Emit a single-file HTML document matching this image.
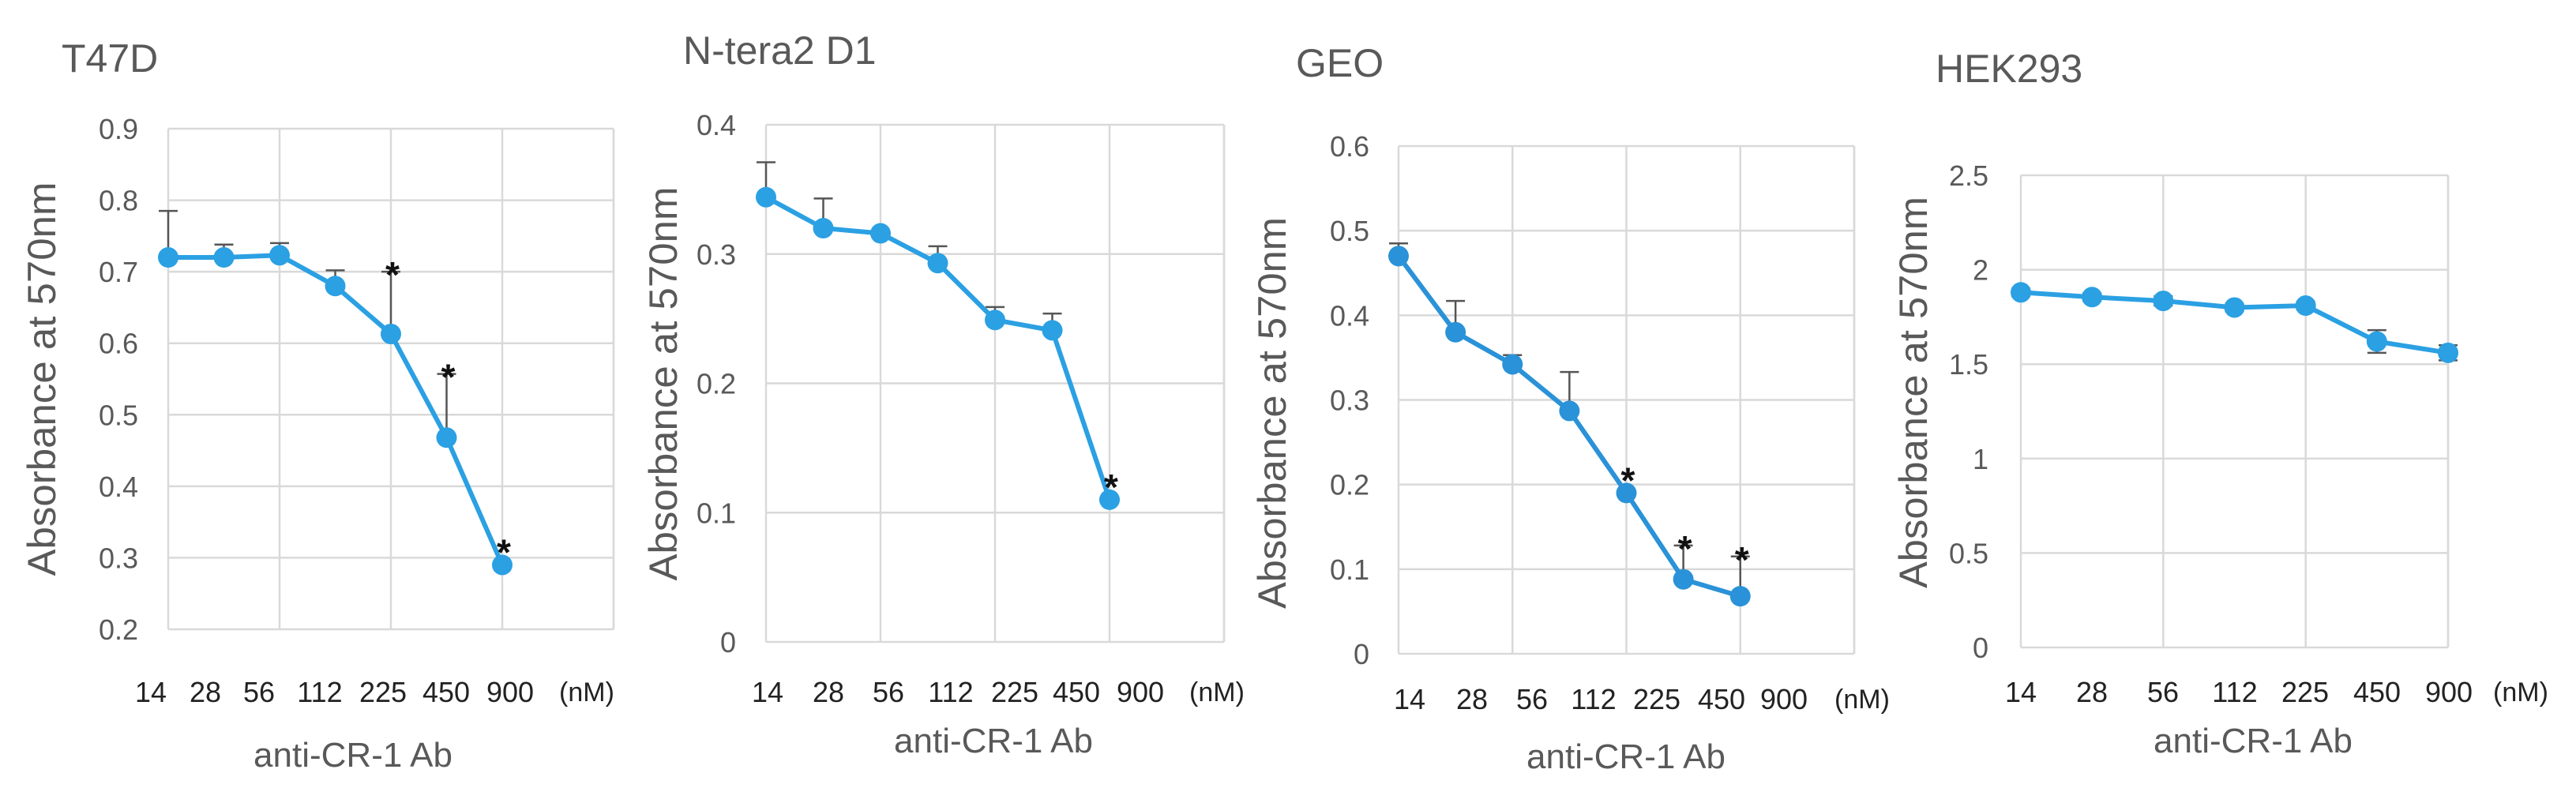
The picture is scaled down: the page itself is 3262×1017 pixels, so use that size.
<!DOCTYPE html>
<html><head><meta charset="utf-8"><style>
html,body{margin:0;padding:0;background:#fff;}
svg{display:block;font-family:"Liberation Sans",sans-serif;}
</style></head><body>
<svg id="fig" width="3262" height="1017" viewBox="0 0 3262 1017" xmlns="http://www.w3.org/2000/svg"></svg>
<script>
const categories = ["14","28","56","112","225","450","900"];
const t47dValues = [0.72,0.72,0.723,0.68,0.613,0.468,0.29];
const t47dErrTop = [0.785,0.738,0.74,0.702,0.70,0.557,null];
const t47dStars = [4,5,6];
const nteraValues = [0.344,0.32,0.316,0.293,0.249,0.241,0.11];
const nteraErrTop = [0.371,0.343,null,0.306,0.259,0.254,null];
const nteraStars = [6];
const geoValues = [0.47,0.38,0.342,0.287,0.19,0.088,0.068];
const geoErrTop = [0.485,0.417,0.353,0.333,null,0.128,0.115];
const geoStars = [4,5,6];
const hekValues = [1.88,1.855,1.835,1.80,1.81,1.62,1.56];
const hekErrTop = [1.90,1.875,1.86,1.82,1.83,1.68,1.60];
const hekErrBot = [1.86,1.835,1.81,1.78,1.79,1.56,1.52];
const hekStars = [];
const t47dTicks = ["0.2","0.3","0.4","0.5","0.6","0.7","0.8","0.9"];
const nteraTicks = ["0","0.1","0.2","0.3","0.4"];
const geoTicks = ["0","0.1","0.2","0.3","0.4","0.5","0.6"];
const hekTicks = ["0","0.5","1","1.5","2","2.5"];

const NS="http://www.w3.org/2000/svg";
const svg=document.getElementById('fig');
function mk(tag,attrs,parent,text){const e=document.createElementNS(NS,tag);for(const k in attrs)e.setAttribute(k,attrs[k]);if(text!==undefined)e.textContent=text;(parent||svg).appendChild(e);return e;}

const panels=[
 {key:'t47d',title:'T47D',tx:78,ty:91,L:213,R:777,T:163,B:797,ymin:0.2,ymax:0.9,ticks:t47dTicks,units:8,gridEvery:2,
  vals:t47dValues,top:t47dErrTop,bot:null,stars:t47dStars,labY:876,labX:[191,260,328,405,485,565,646],nmX:743,
  xtX:447,xtY:955,ytX:52,ytY:480,ytLen:499,tickR:175,color:'#2ba0e3'},
 {key:'ntera',title:'N-tera2 D1',tx:865,ty:81,L:970,R:1550,T:158,B:813,ymin:0,ymax:0.4,ticks:nteraTicks,units:8,gridEvery:2,
  vals:nteraValues,top:nteraErrTop,bot:null,stars:nteraStars,labY:876,labX:[972,1049,1125,1204,1285,1363,1444],nmX:1541,
  xtX:1258,xtY:937,ytX:839,ytY:486,ytLen:499,tickR:932,color:'#2ba0e3'},
 {key:'geo',title:'GEO',tx:1641,ty:97,L:1771,R:2348,T:185,B:828,ymin:0,ymax:0.6,ticks:geoTicks,units:8,gridEvery:2,
  vals:geoValues,top:geoErrTop,bot:null,stars:geoStars,labY:885,labX:[1785,1864,1940,2018,2098,2180,2259],nmX:2358,
  xtX:2059,xtY:957,ytX:1610,ytY:523,ytLen:496,tickR:1734,color:'#2a92d8'},
 {key:'hek',title:'HEK293',tx:2451,ty:104,L:2559,R:3100,T:222,B:820,ymin:0,ymax:2.5,ticks:hekTicks,units:6,gridEvery:2,
  vals:hekValues,top:hekErrTop,bot:hekErrBot,stars:hekStars,labY:876,labX:[2559,2649,2739,2830,2919,3010,3101],nmX:3192,
  xtX:2853,xtY:937,ytX:2422,ytY:497,ytLen:496,tickR:2518,color:'#2ba0e3'}
];

panels.forEach(p=>{
  const g=mk('g',{});
  
  
  const y=v=>p.B-(v-p.ymin)/(p.ymax-p.ymin)*(p.B-p.T);
  const x=i=>p.L+i*(p.R-p.L)/p.units;
  const t=mk('text',{x:p.tx,y:p.ty,'font-size':50,fill:'#595959'},g,p.title);
  
  
  p.ticks.forEach(s=>{
    const v=parseFloat(s), yy=y(v);
    const gl=mk('line',{x1:p.L,x2:p.R,y1:yy,y2:yy,stroke:'#d9d9d9','stroke-width':2.5},g);
    
    
    const tl=mk('text',{x:p.tickR,y:yy+13,'font-size':36,fill:'#595959','text-anchor':'end'},g,s);
    
    
  });
  for(let k=0;k<=p.units;k+=p.gridEvery){
    const xx=p.L+k*(p.R-p.L)/p.units;
    const vl=mk('line',{x1:xx,x2:xx,y1:p.T,y2:p.B,stroke:'#d9d9d9','stroke-width':2.5},g);
    
    
  }
  const rb=mk('line',{x1:p.R,x2:p.R,y1:p.T,y2:p.B,stroke:'#d9d9d9','stroke-width':2.5},g);
  
  
  p.vals.forEach((v,i)=>{
    const tp=p.top[i]; if(tp==null) return;
    const bt=p.bot?p.bot[i]:v;
    const e=mk('path',{d:`M${x(i)},${y(bt)}V${y(tp)}M${x(i)-12},${y(tp)}H${x(i)+12}`+(p.bot?`M${x(i)-12},${y(bt)}H${x(i)+12}`:''),stroke:'#555','stroke-width':2.5,fill:'none'},g);
    
    
  });
  const line=mk('polyline',{points:p.vals.map((v,i)=>x(i)+','+y(v)).join(' '),fill:'none',stroke:p.color,'stroke-width':6},g);
  
  
  p.vals.forEach((v,i)=>{
    const c=mk('circle',{cx:x(i),cy:y(v),r:13,fill:p.color},g);
    
    
  });
  p.stars.forEach(i=>{
    const tp=p.top[i];
    const base=tp!=null?y(tp)-6:y(p.vals[i])-26;
    const st=mk('text',{x:x(i)+2,y:base+26,'font-size':46,'font-weight':'bold',fill:'#111','text-anchor':'middle'},g,'*');
    
    
  });
  categories.forEach((c,i)=>{
    const cl=mk('text',{x:p.labX[i],y:p.labY+13,'font-size':36,fill:'#222','text-anchor':'middle'},g,c);
    
    
  });
  const nm=mk('text',{x:p.nmX,y:p.labY+12,'font-size':34,fill:'#222','text-anchor':'middle'},g,'(nM)');
  
  
  const xt=mk('text',{x:p.xtX,y:p.xtY+16,'font-size':44,fill:'#595959','text-anchor':'middle'},g,'anti-CR-1 Ab');
  
  
  const yt=mk('text',{x:0,y:0,'font-size':50,fill:'#595959','text-anchor':'middle',textLength:p.ytLen,lengthAdjust:'spacingAndGlyphs',transform:`translate(${p.ytX+18},${p.ytY}) rotate(-90)`},g,'Absorbance  at 570nm');
  
  
});
</script>
</body></html>
